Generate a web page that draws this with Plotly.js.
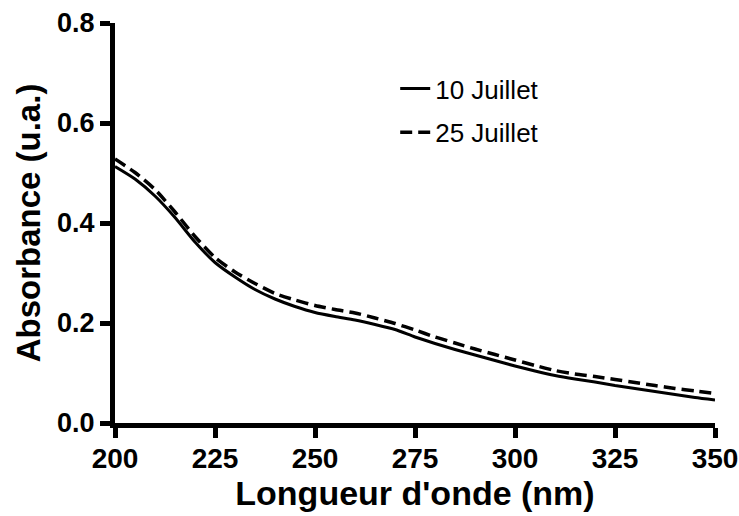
<!DOCTYPE html>
<html>
<head>
<meta charset="utf-8">
<script src="https://cdn.plot.ly/plotly-3.0.1.min.js"></script>
<style>html,body{margin:0;padding:0;background:#fff;}#chart{width:739px;height:516px;}</style>
</head>
<body>
<div id="chart"></div>
<script>
const wavelength = [200,205,210,215,220,225,230,235,240,245,250,255,260,265,270,275,280,285,290,295,300,305,310,315,320,325,330,335,340,345,350];
const juillet10 = [0.513,0.488,0.454,0.411,0.362,0.321,0.292,0.267,0.248,0.233,0.221,0.213,0.206,0.197,0.187,0.172,0.159,0.147,0.136,0.125,0.114,0.104,0.095,0.088,0.082,0.075,0.069,0.063,0.057,0.051,0.046];
const juillet25 = [0.528,0.501,0.467,0.422,0.373,0.331,0.302,0.279,0.259,0.246,0.235,0.227,0.220,0.210,0.199,0.186,0.172,0.160,0.148,0.137,0.126,0.115,0.105,0.098,0.093,0.087,0.081,0.075,0.069,0.064,0.059];
const seriesNames = ['10 Juillet','25 Juillet'];
const xTicks = [200,225,250,275,300,325,350];
const yTicks = [0.0,0.2,0.4,0.6,0.8];
const yTickText = ['0.0','0.2','0.4','0.6','0.8'];

const font = 'Liberation Sans, Arial, Helvetica, sans-serif';
const traces = [
  {x: wavelength, y: juillet10, name: seriesNames[0], legendgroup: 'a', mode: 'lines', line: {color: '#000', width: 3, shape: 'spline', smoothing: 0.6}},
  {x: wavelength, y: juillet25, name: seriesNames[1], legendgroup: 'b', mode: 'lines', line: {color: '#000', width: 3.5, dash: '12px,6px', shape: 'spline', smoothing: 0.6}}
];
const layout = {
  width: 739, height: 516,
  margin: {l: 115, r: 24, t: 23, b: 93, pad: 0},
  paper_bgcolor: '#fff', plot_bgcolor: '#fff',
  showlegend: true,
  legend: {x: 0.467, y: 0.895, xanchor: 'left', yanchor: 'top', bgcolor: 'rgba(0,0,0,0)',
           font: {family: font, size: 26, color: '#000'}, tracegroupgap: 7, itemwidth: 30},
  xaxis: {range: [200, 350], tickvals: xTicks, ticktext: xTicks.map(String),
          showline: true, linecolor: '#000', linewidth: 5, showgrid: false, zeroline: false,
          ticks: 'outside', ticklen: 10, tickwidth: 5, tickcolor: '#000', ticklabelstandoff: -4,
          tickfont: {family: font, size: 28, color: '#000', weight: 'bold'},
          title: {text: "<b>Longueur d'onde (nm)</b>", font: {family: font, size: 34, color: '#000'}, standoff: 8}},
  yaxis: {range: [0, 0.8], tickvals: yTicks, ticktext: yTickText,
          showline: true, linecolor: '#000', linewidth: 5, showgrid: false, zeroline: false,
          ticks: 'outside', ticklen: 10, tickwidth: 5, tickcolor: '#000',
          tickfont: {family: font, size: 27, color: '#000', weight: 'bold'},
          title: {text: '<b>Absorbance (u.a.)</b>', font: {family: font, size: 33, color: '#000'}, standoff: 8}}
};
Plotly.newPlot('chart', traces, layout, {displayModeBar: false, staticPlot: true});
</script>
</body>
</html>
